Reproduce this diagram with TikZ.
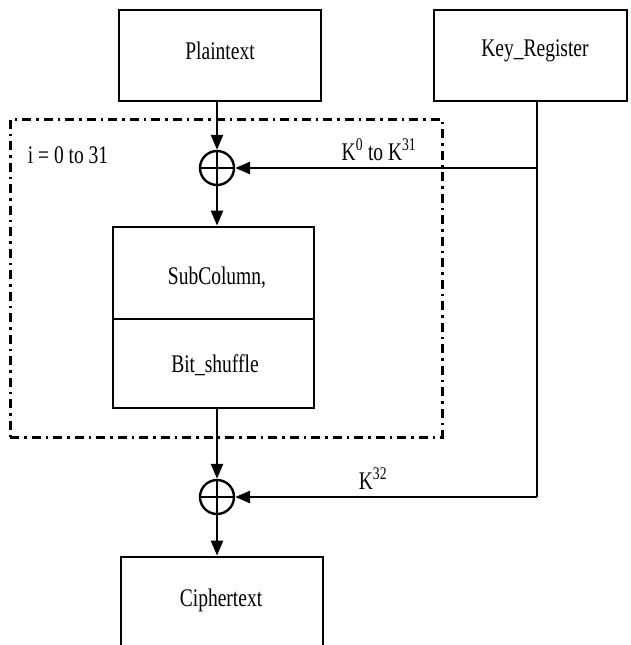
\documentclass[tikz,border=0pt]{standalone}
\usepackage{fontspec}
\setmainfont{Liberation Serif}
\usetikzlibrary{arrows.meta}
\newcommand\stx[1]{\scalebox{1}[1.3]{#1}}
\begin{document}
\begin{tikzpicture}[x=1pt,y=-1pt,
  box/.style={draw,line width=2.8pt,inner sep=0pt},
  lbl/.style={font=\fontsize{19.5}{22}\selectfont,inner sep=0pt},
  conn/.style={line width=2.5pt,-{Triangle[length=15pt,width=12pt]}},
  wire/.style={line width=1.8pt},
  xorn/.style={draw,circle,line width=2.4pt,minimum size=34pt,inner sep=0pt},
  loopbox/.style={draw,line width=3pt,dash pattern=on 9pt off 5pt on 2.5pt off 5pt,inner sep=0pt}]
\useasboundingbox (0,0) rectangle (630,645);
\clip (0,0) rectangle (630,645);

% boxes
\node[box,minimum width=202pt,minimum height=91pt] (plain) at (220,55.5) {};
\node[lbl] (plaintxt) at (220,51) {\stx{Plaintext}};
\node[box,minimum width=193pt,minimum height=91pt] (key) at (530.5,55.5) {};
\node[lbl] (keytxt) at (535,51) {\stx{Key\_Register}};

\node[loopbox,minimum width=432pt,minimum height=318pt] (loop) at (226,278) {};
\node[lbl] (itxt) at (68,155) {\stx{i = 0 to 31}};

\node[box,minimum width=201pt,minimum height=92pt] (sub) at (213.5,273) {};
\node[lbl] (subtxt) at (217,278) {\stx{SubColumn,}};
\node[box,minimum width=201pt,minimum height=89pt] (bit) at (213.5,363.5) {};
\node[lbl] (bittxt) at (215,365) {\stx{Bit\_shuffle}};

\node[box,minimum width=202pt,minimum height=123pt] (ciph) at (222,618.5) {};
\node[lbl] (ciphtxt) at (221,600) {\stx{Ciphertext}};

% xor nodes
\node[xorn] (x1) at (217,168) {};
\draw[line width=2.4pt] (x1.north) -- (x1.south) (x1.west) -- (x1.east);
\node[xorn] (x2) at (217,497) {};
\draw[line width=2.4pt] (x2.north) -- (x2.south) (x2.west) -- (x2.east);

% key wiring
\coordinate (kt) at (537,168);
\coordinate (kd) at (537,497);
\draw[wire] (kd |- key.south) -- (kd);
\draw[conn,line width=2.8pt] (kt) -- (x1.east);
\draw[conn,line width=2.8pt] (kd) -- (x2.east);
\node[lbl] (k0txt) at (379,150) {\stx{K\textsuperscript{0} to K\textsuperscript{31}}};
\node[lbl] (k32txt) at (373,479) {\stx{K\textsuperscript{32}}};

% main data path
\draw[conn] (x1 |- plain.south) -- (x1.north);
\draw[conn] (x1.south) -- (x1 |- sub.north);
\draw[conn] (x2 |- bit.south) -- (x2.north);
\draw[conn] (x2.south) -- (x2 |- ciph.north);
\end{tikzpicture}
\end{document}
